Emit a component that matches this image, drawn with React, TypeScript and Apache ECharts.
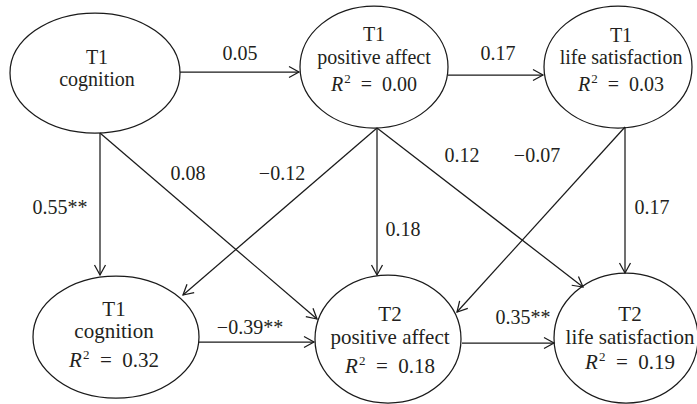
import React, { useEffect, useRef } from 'react';
import * as echarts from 'echarts';

// ---------- DATA ----------
const nodeWave = ['T1', 'T1', 'T1', 'T1', 'T2', 'T2'];
const nodeConstruct = ['cognition', 'positive affect', 'life satisfaction', 'cognition', 'positive affect', 'life satisfaction'];
const nodeR2: (string | null)[] = [null, '0.00', '0.03', '0.32', '0.18', '0.19'];

const pathFrom = [0, 1, 0, 0, 1, 1, 1, 2, 2, 3, 4];
const pathTo = [1, 2, 3, 4, 3, 4, 5, 4, 5, 4, 5];
const pathCoef = ['0.05', '0.17', '0.55', '0.08', '\u22120.12', '0.18', '0.12', '\u22120.07', '0.17', '\u22120.39', '0.35'];
const pathSig = ['', '', '**', '', '', '', '', '', '', '**', '**'];

// ---------- LAYOUT ----------
const W = 697;
const H = 404;
const nodeEllipse = [
  [95, 73, 85, 60],
  [374, 67, 74, 61],
  [618, 67, 74, 61],
  [116, 337, 83, 61],
  [388, 339, 73, 64],
  [626, 338, 72, 65],
];
const nodeTextX = [97, 374, 621, 114, 390, 630];
const nodeLineY = [
  [57, 79],
  [34, 57, 84],
  [35, 57, 84],
  [309, 331, 360],
  [314, 337, 366],
  [314, 337, 362],
];
const nodeFont = [20, 20, 20, 21, 21, 21];
const pathStart = [[180, 72], [448, 75], [100, 133], [100, 133], [377, 128], [377, 128], [377, 128], [625, 127], [625, 127], [199, 342], [462, 343]];
const pathEnd = [[299, 72], [543, 75], [100, 275], [317, 319], [183, 295], [377, 275], [583, 287], [457, 312], [625, 273], [314, 342], [554, 343]];
const labelPos = [[240, 53], [498, 53], [60, 207], [188, 173], [282, 173], [403, 229], [462, 155], [537, 155], [652, 207], [250, 327], [523, 317]];

const FONT = 'Liberation Serif';
const INK = '#231f20';
const STROKE = '#1a1a1a';

function buildGraphics() {
  const els: any[] = [];
  nodeEllipse.forEach((e) => {
    els.push({
      type: 'ellipse',
      shape: { cx: e[0], cy: e[1], rx: e[2], ry: e[3] },
      style: { fill: '#fff', stroke: STROKE, lineWidth: 1.25 },
    });
  });
  pathFrom.forEach((_, i) => {
    const [x1, y1] = pathStart[i];
    const [x2, y2] = pathEnd[i];
    els.push({
      type: 'line',
      shape: { x1, y1, x2, y2 },
      style: { stroke: STROKE, lineWidth: 1.25 },
    });
    const dx = x2 - x1;
    const dy = y2 - y1;
    const len = Math.sqrt(dx * dx + dy * dy);
    const ux = dx / len;
    const uy = dy / len;
    const L = 10;
    const Wd = 5.5;
    els.push({
      type: 'polyline',
      shape: {
        points: [
          [x2 - L * ux - Wd * uy, y2 - L * uy + Wd * ux],
          [x2, y2],
          [x2 - L * ux + Wd * uy, y2 - L * uy - Wd * ux],
        ],
      },
      style: { stroke: STROKE, lineWidth: 1.25, fill: 'none' },
    });
    els.push({
      type: 'text',
      x: labelPos[i][0],
      y: labelPos[i][1],
      style: {
        text: pathCoef[i] + pathSig[i],
        fontFamily: FONT,
        fontSize: 20,
        fill: INK,
        align: 'center',
        verticalAlign: 'middle',
      },
    });
  });
  nodeWave.forEach((w, i) => {
    const fs = nodeFont[i];
    const ys = nodeLineY[i];
    const x = nodeTextX[i];
    const base = { fontFamily: FONT, fontSize: fs, fill: INK, align: 'center', verticalAlign: 'middle' };
    els.push({ type: 'text', x, y: ys[0], style: { ...base, text: w } });
    els.push({ type: 'text', x, y: ys[1], style: { ...base, text: nodeConstruct[i] } });
    if (nodeR2[i] !== null) {
      els.push({
        type: 'text',
        x,
        y: ys[2],
        style: {
          ...base,
          text: '{i|R}{s|2}{n|  =  ' + nodeR2[i] + '}',
          rich: {
            i: { fontFamily: FONT, fontSize: fs, fontStyle: 'italic', fill: INK, lineHeight: fs + 4 },
            s: { fontFamily: FONT, fontSize: 13, fill: INK, verticalAlign: 'top', padding: [0, 0, 0, 1] },
            n: { fontFamily: FONT, fontSize: fs, fill: INK, lineHeight: fs + 4 },
          },
        },
      });
    }
  });
  return els;
}

export default function App() {
  const ref = useRef<HTMLDivElement>(null);
  useEffect(() => {
    document.body.style.margin = '0';
    if (!ref.current) return;
    const chart = echarts.init(ref.current, null, { renderer: 'svg' });
    chart.setOption({
      animation: false,
      backgroundColor: '#ffffff',
      graphic: { elements: buildGraphics() },
    });
    return () => chart.dispose();
  }, []);
  return <div ref={ref} style={{ width: W, height: H }} />;
}
